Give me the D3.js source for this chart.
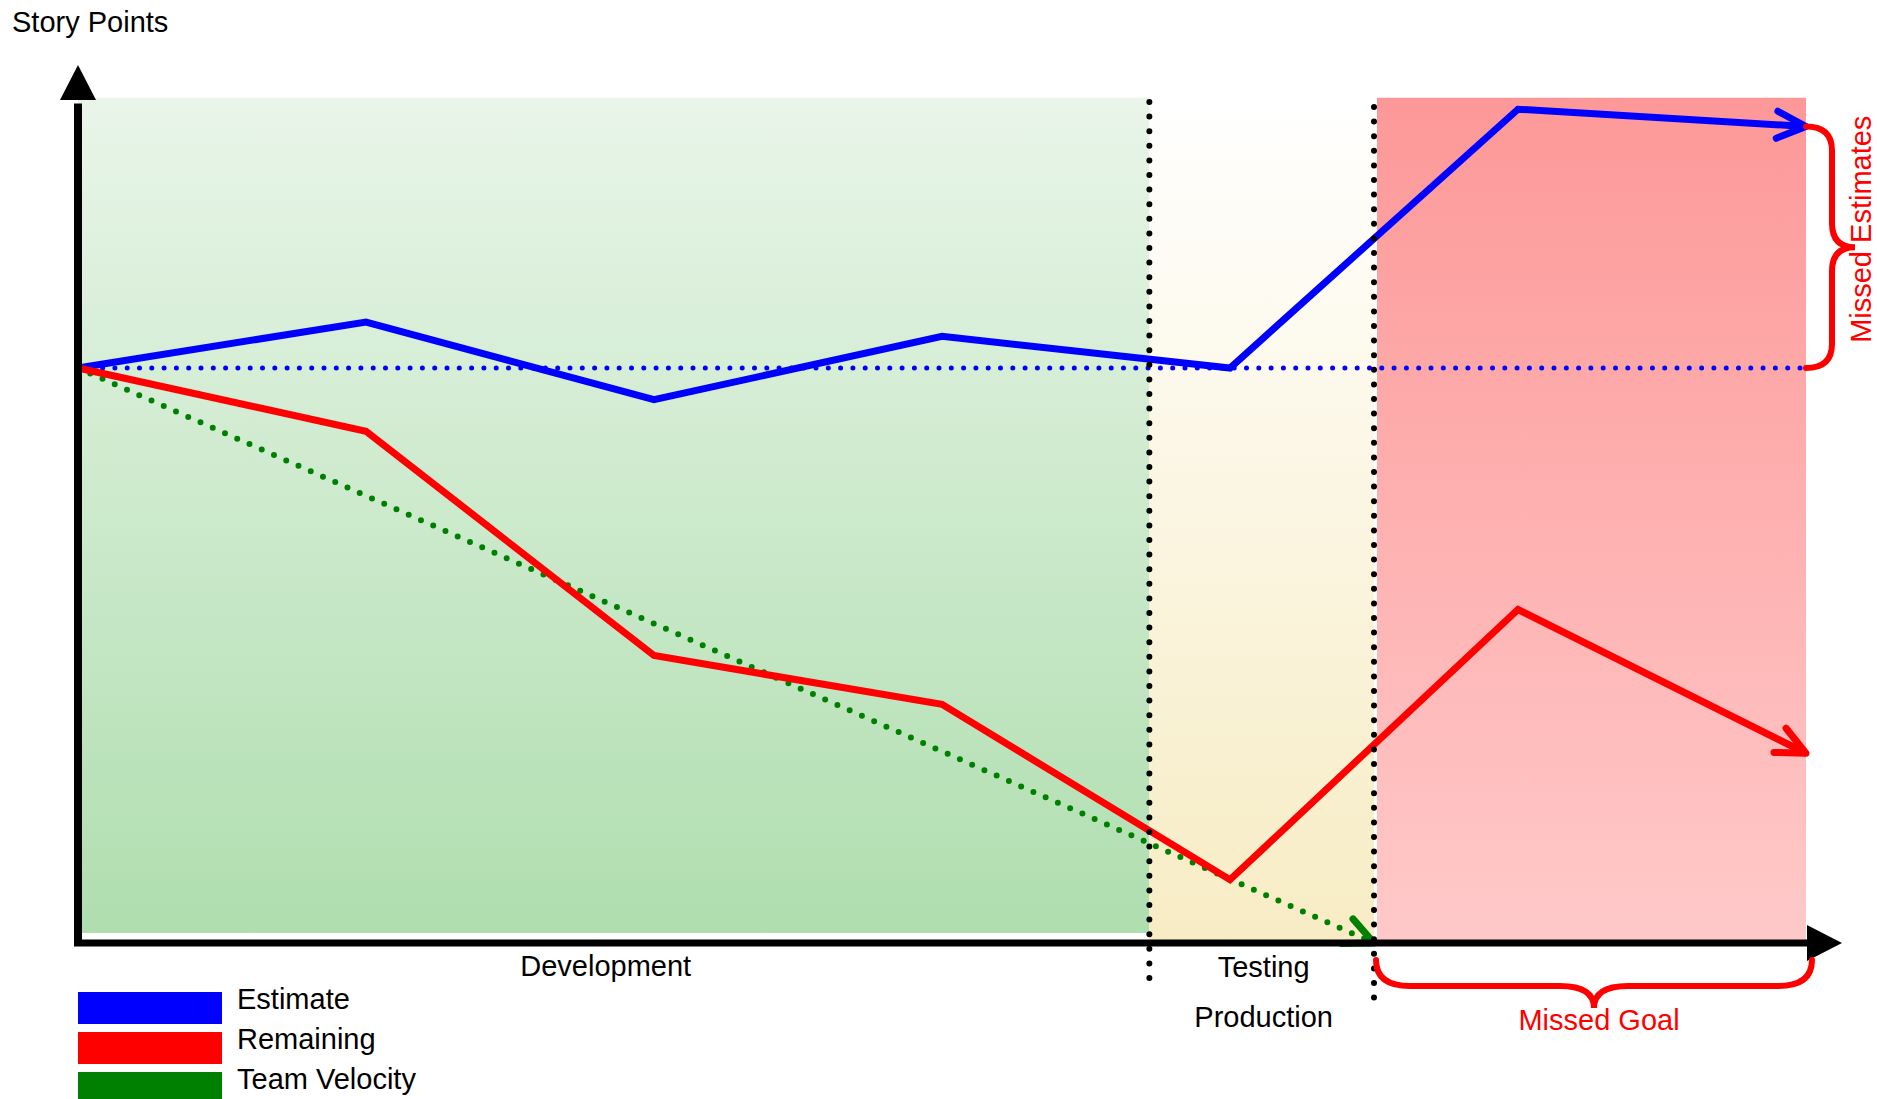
<!DOCTYPE html>
<html>
<head>
<meta charset="utf-8">
<script src="https://cdn.jsdelivr.net/npm/d3@7"></script>
<style>
  body { margin: 0; background: #fff; }
  text { font-family: "Liberation Sans", Arial, sans-serif; }
</style>
</head>
<body>
<script>
const W = 1877
const H = 1099

// sprints along the x axis
const sprints = [0, 1, 2, 3, 4, 5, 6]
// story point series
const estimate = [100, 108, 94.5, 105.5, 100, 145, 142]
const remaining = [100, 89, 50, 41.5, 11, 58, 33]
// team velocity: straight projection from start to zero
const velocityX = [0, 4.5]
const velocityY = [100, 0]
// phase boundaries (in sprint units) and their labels
const phaseBounds = [0, 3.72, 4.5, 6]
const phaseNames = ["Development", "Testing\nProduction", "Missed Goal"]
const legendNames = ["Estimate", "Remaining", "Team Velocity"]
const legendColors = ["#0000ff", "#ff0000", "#008000"]

const yTop = 147

const svg = d3.select("body").append("svg")
	.attr("width", W).attr("height", H)

const x = d3.scaleLinear().domain([0, 6]).range([78, 1806])
const y = d3.scaleLinear().domain([0, 100]).range([943, 368])

const defs = svg.append("defs")
function grad(id, top, bottom) {
	const g = defs.append("linearGradient").attr("id", id)
		.attr("x1", 0).attr("y1", 0).attr("x2", 0).attr("y2", 1)
	g.append("stop").attr("offset", "0%").attr("stop-color", top)
	g.append("stop").attr("offset", "100%").attr("stop-color", bottom)
}
grad("gDev", "#e9f5e9", "#afdeaf")
grad("gTest", "#ffffff", "#f7ecc4")
grad("gMiss", "#fd9898", "#ffc9c9")
const fills = ["url(#gDev)", "url(#gTest)", "url(#gMiss)"]

// phase backgrounds
svg.selectAll("rect.phase")
	.data(phaseNames)
	.enter()
	.append("rect")
	.attr("class", "phase")
	.attr("x", (d, i) => x(phaseBounds[i]) + (i == 2 ? 3 : 0))
	.attr("y", y(yTop))
	.attr("width", (d, i) => x(phaseBounds[i + 1]) - x(phaseBounds[i]) - (i == 2 ? 3 : 0))
	.attr("height", (d, i) => y(0) - y(yTop) - (i == 0 ? 10 : 3))
	.attr("fill", (d, i) => fills[i])

const line = d3.line()
	.x(d => x(d[0]))
	.y(d => y(d[1]))

// baseline of the first estimate
svg.append("path")
	.attr("d", line([[0, estimate[0]], [6, estimate[0]]]))
	.attr("stroke", "#0000ff")
	.attr("stroke-width", 5)
	.attr("stroke-linecap", "round")
	.attr("stroke-dasharray", "0,12.3")
	.attr("fill", "none")

function arrowHead(p1, p2, color) {
	const ax = x(p2[0]), ay = y(p2[1])
	const ang = Math.atan2(ay - y(p1[1]), ax - x(p1[0]))
	const a = 25 * Math.PI / 180, len = 32
	const pts = [
		[ax - len * Math.cos(ang - a), ay - len * Math.sin(ang - a)],
		[ax, ay],
		[ax - len * Math.cos(ang + a), ay - len * Math.sin(ang + a)]
	]
	svg.append("path")
		.attr("d", d3.line()(pts))
		.attr("stroke", color)
		.attr("stroke-width", 7)
		.attr("stroke-linecap", "round")
		.attr("stroke-linejoin", "round")
		.attr("fill", "none")
}

// team velocity
const vel = velocityX.map((v, i) => [v, velocityY[i]])
svg.append("path")
	.attr("d", line(vel))
	.attr("stroke", "#008000")
	.attr("stroke-width", 6)
	.attr("stroke-linecap", "round")
	.attr("stroke-dasharray", "0,13.4")
	.attr("fill", "none")
arrowHead(vel[0], vel[1], "#008000")

// estimate and remaining
const series = [estimate, remaining]
series.forEach((s, k) => {
	const pts = sprints.map((d, i) => [d, s[i]])
	svg.append("path")
		.attr("d", line(pts))
		.attr("stroke", legendColors[k])
		.attr("stroke-width", 7)
		.attr("stroke-linejoin", "miter")
		.attr("fill", "none")
	arrowHead(pts[pts.length - 2], pts[pts.length - 1], legendColors[k])
})

// phase separators
svg.selectAll("line.sep")
	.data([1, 2])
	.enter()
	.append("line")
	.attr("x1", i => x(phaseBounds[i]))
	.attr("x2", i => x(phaseBounds[i]))
	.attr("y1", i => i == 1 ? 102 : 107)
	.attr("y2", i => i == 1 ? 990 : 1004)
	.attr("stroke", "#000")
	.attr("stroke-width", 6)
	.attr("stroke-linecap", "round")
	.attr("stroke-dasharray", "0,14.6")

// axes with arrows
svg.append("line")
	.attr("x1", x(0)).attr("x2", x(0))
	.attr("y1", y(0) + 3).attr("y2", y(146))
	.attr("stroke", "#000").attr("stroke-width", 8)
svg.append("path")
	.attr("d", `M${x(0) - 18},${y(146.6)} L${x(0)},${y(152.7)} L${x(0) + 18},${y(146.6)} Z`)
	.attr("fill", "#000")
svg.append("line")
	.attr("x1", x(0) - 4).attr("x2", x(6) + 4)
	.attr("y1", y(0)).attr("y2", y(0))
	.attr("stroke", "#000").attr("stroke-width", 7)
svg.append("path")
	.attr("d", `M${x(6) + 1},${y(0) - 18} L${x(6) + 36},${y(0)} L${x(6) + 1},${y(0) + 18} Z`)
	.attr("fill", "#000")

svg.append("text")
	.text("Story Points")
	.attr("x", 12).attr("y", 32)
	.attr("font-size", "29px")

// phase labels
svg.append("text")
	.text(phaseNames[0])
	.attr("x", (x(phaseBounds[0]) + x(phaseBounds[1])) / 2 - 8)
	.attr("y", 976)
	.attr("font-size", "29px")
	.attr("text-anchor", "middle")
phaseNames[1].split("\n").forEach((t, i) => {
	svg.append("text")
		.text(t)
		.attr("x", (x(phaseBounds[1]) + x(phaseBounds[2])) / 2 + 2)
		.attr("y", 977 + i * 50)
		.attr("font-size", "29px")
		.attr("text-anchor", "middle")
})

// missed goal brace
const bx1 = x(phaseBounds[2]) + 2, bx2 = x(phaseBounds[3]) + 6
const bxm = (bx1 + bx2) / 2
const by0 = 960, by1 = 986, by2 = 1008, br = 34
svg.append("path")
	.attr("d", `M${bx1},${by0} Q${bx1},${by1} ${bx1 + br},${by1} L${bxm - br},${by1}
		Q${bxm},${by1} ${bxm},${by2} Q${bxm},${by1} ${bxm + br},${by1} L${bx2 - br},${by1}
		Q${bx2},${by1} ${bx2},${by0}`)
	.attr("stroke", "#ff0000").attr("stroke-width", 6)
	.attr("stroke-linecap", "round").attr("fill", "none")
svg.append("text")
	.text(phaseNames[2])
	.attr("x", bxm + 5).attr("y", 1030)
	.attr("font-size", "29px")
	.attr("fill", "#ff0000")
	.attr("text-anchor", "middle")

// missed estimates brace
const ex0 = x(6), ex1 = ex0 + 26, ex2 = ex0 + 49
const ey1 = y(estimate[6]), ey2 = y(estimate[0])
const eym = (ey1 + ey2) / 2, er = 24
svg.append("path")
	.attr("d", `M${ex0},${ey1} Q${ex1},${ey1} ${ex1},${ey1 + er} L${ex1},${eym - er}
		Q${ex1},${eym} ${ex2},${eym} Q${ex1},${eym} ${ex1},${eym + er} L${ex1},${ey2 - er}
		Q${ex1},${ey2} ${ex0},${ey2}`)
	.attr("stroke", "#ff0000").attr("stroke-width", 6)
	.attr("stroke-linecap", "round").attr("fill", "none")
svg.append("text")
	.text("Missed Estimates")
	.attr("transform", `translate(${ex0 + 65},${eym - 18}) rotate(-90)`)
	.attr("font-size", "29px")
	.attr("fill", "#ff0000")
	.attr("text-anchor", "middle")

// legend
const legend = svg.selectAll("g.legend")
	.data(legendNames)
	.enter()
	.append("g")
	.attr("class", "legend")
	.attr("transform", (d, i) => `translate(78,${992 + i * 40})`)
legend.append("rect")
	.attr("width", 144).attr("height", 32)
	.attr("fill", (d, i) => legendColors[i])
legend.append("text")
	.text(d => d)
	.attr("x", 159).attr("y", 17)
	.attr("font-size", "29px")
</script>
</body>
</html>
